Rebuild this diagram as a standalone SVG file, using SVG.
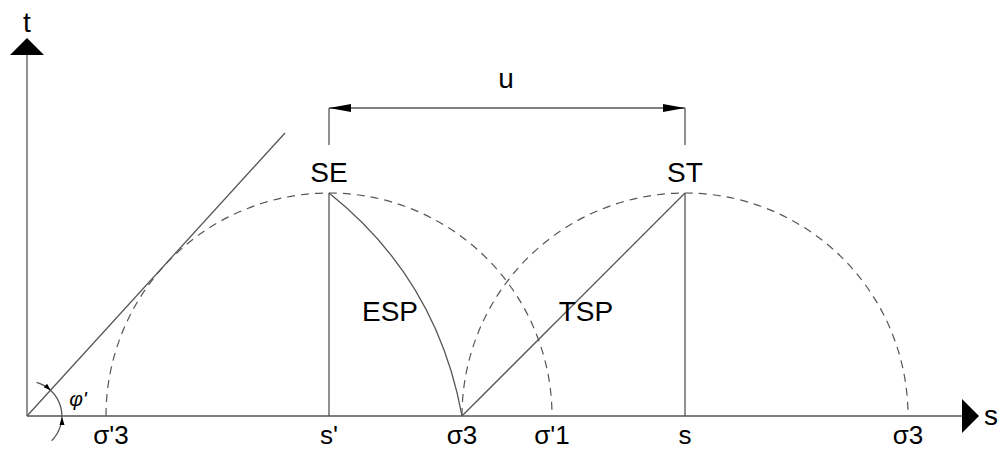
<svg xmlns="http://www.w3.org/2000/svg" width="1005" height="450" viewBox="0 0 1005 450">
<style>
.ln{stroke:#555;stroke-width:1.3;fill:none}
.ds{stroke:#555;stroke-width:1.2;fill:none;stroke-dasharray:8 6}
.ah{fill:#000;stroke:none}
text{font-family:"Liberation Sans",Arial,sans-serif;fill:#000;text-anchor:middle}
.lb{font-size:28px}
.bt{font-size:26px}
</style>
<rect width="1005" height="450" fill="#fff"/>
<g id="axes">
<line class="ln" x1="27" y1="55" x2="27" y2="416"/>
<line class="ln" x1="27" y1="416" x2="962" y2="416"/>
<polygon class="ah" points="27,38 10,55 44,55"/>
<polygon class="ah" points="979,416 962,399 962,433"/>
<text x="27" y="32" style="font-size:28px">t</text>
<text x="991" y="425" style="font-size:28px">s</text>
</g>
<g id="circles">
<path class="ds" d="M106,416 A223,223 0 0 1 552,416"/>
<path class="ds" d="M462,416 A223,223 0 0 1 908,416"/>
</g>
<g id="connectors">
<line class="ln" x1="27" y1="416" x2="285" y2="133"/>
<line class="ln" x1="329" y1="108" x2="329" y2="145"/>
<line class="ln" x1="329" y1="193" x2="329" y2="416"/>
<line class="ln" x1="685" y1="108" x2="685" y2="145"/>
<line class="ln" x1="685" y1="193" x2="685" y2="416"/>
<line class="ln" x1="462" y1="416" x2="685" y2="193"/>
<path class="ln" d="M329,193 Q437,279 462,416"/>
<line class="ln" x1="329" y1="108" x2="685" y2="108"/>
<polygon class="ah" points="329,108 351,104 351,112"/>
<polygon class="ah" points="685,108 663,104 663,112"/>
<path class="ln" d="M36.6,382.4 A35,35 0 0 1 51.7,440.7"/>
<polygon class="ah" points="50.6,390.2 43.7,387.3 47.1,383.7"/>
<polygon class="ah" points="62,417 59.5,425 64.5,425"/>
</g>
<g id="labels">
<text class="lb" x="506" y="88">u</text>
<text class="lb" x="329" y="182">SE</text>
<text class="lb" x="685" y="182">ST</text>
<text class="lb" x="390" y="321">ESP</text>
<text class="lb" x="586" y="321">TSP</text>
<text x="78" y="406" style="font-size:21px;font-style:italic">φ'</text>
<text class="bt" x="111" y="444">σ'3</text>
<text class="bt" x="329" y="444">s'</text>
<text class="bt" x="462" y="444">σ3</text>
<text class="bt" x="552" y="444">σ'1</text>
<text class="bt" x="685" y="444">s</text>
<text class="bt" x="908" y="444">σ3</text>
</g>
</svg>
